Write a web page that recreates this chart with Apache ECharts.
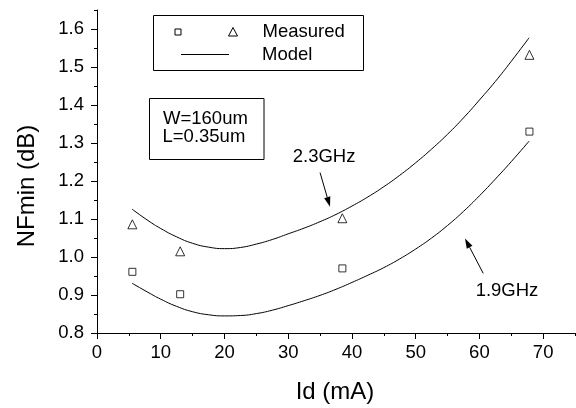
<!DOCTYPE html>
<html><head><meta charset="utf-8">
<script src="https://cdn.jsdelivr.net/npm/echarts@6/dist/echarts.min.js"></script>
<style>html,body{margin:0;padding:0;background:#fff}#c{width:576px;height:408px}</style>
</head><body><div id="c"></div><script>
const xMajorTicks = [0, 10, 20, 30, 40, 50, 60, 70];
const xMinorTicks = [5, 15, 25, 35, 45, 55, 65, 75];
const yMajorTicks = [0.8, 0.9, 1.0, 1.1, 1.2, 1.3, 1.4, 1.5, 1.6];
const yMinorTicks = [0.85, 0.95, 1.05, 1.15, 1.25, 1.35, 1.45, 1.55, 1.65];

const measuredId = [5.55, 13.05, 38.5, 67.85];
const measured19 = [0.961, 0.902, 0.970, 1.330];
const measured23 = [1.086, 1.015, 1.102, 1.532];

const modelId = [5.5, 8, 10, 12.5, 15, 17.5, 20, 22.5, 25, 27.5, 30, 32.5, 35, 37.5, 40, 42.5, 45, 47.5, 50, 52.5, 55, 57.5, 60, 62.5, 65, 67.8];
const model19 = [0.931, 0.907, 0.889, 0.870, 0.856, 0.848, 0.845, 0.846, 0.851, 0.860, 0.872, 0.885, 0.899, 0.915, 0.933, 0.952, 0.972, 0.995, 1.021, 1.050, 1.083, 1.120, 1.161, 1.205, 1.251, 1.305];
const model23 = [1.126, 1.096, 1.075, 1.053, 1.036, 1.026, 1.022, 1.025, 1.034, 1.046, 1.061, 1.076, 1.093, 1.112, 1.134, 1.158, 1.185, 1.215, 1.248, 1.284, 1.323, 1.366, 1.413, 1.462, 1.515, 1.577];

const annotTexts = ['2.3GHz', '1.9GHz'];
const annotTextPos = [[35.63, 1.264], [64.33, 0.911]];
const arrowFrom = [[35.0, 1.222], [60.6, 0.957]];
const arrowTo = [[36.56, 1.132], [57.74, 1.049]];

const FONT = "'Liberation Sans', Arial, sans-serif";
const zip = (a, b) => a.map((v, i) => [v, b[i]]);

const chart = echarts.init(document.getElementById('c'), null, {renderer: 'canvas'});
const baseX = {type: 'value', min: 0, max: 75, gridIndex: 0, position: 'bottom', splitLine: {show: false}};
const baseY = {type: 'value', min: 0.8, max: 1.65, gridIndex: 0, position: 'left', splitLine: {show: false}};
chart.setOption({
  animation: false,
  backgroundColor: '#fff',
  grid: {left: 97, right: 1, top: 10, bottom: 75, containLabel: false},
  xAxis: [
    Object.assign({}, baseX, {
      axisLine: {show: true, lineStyle: {color: '#000', width: 1}},
      axisTick: {show: true, customValues: xMajorTicks, length: 6, lineStyle: {color: '#000', width: 1}},
      axisLabel: {show: true, customValues: xMajorTicks, margin: 10, color: '#000', fontSize: 18.5, fontFamily: FONT}
    }),
    Object.assign({}, baseX, {
      axisLine: {show: false},
      axisTick: {show: true, customValues: xMinorTicks, length: 3, lineStyle: {color: '#000', width: 1}},
      axisLabel: {show: false}
    })
  ],
  yAxis: [
    Object.assign({}, baseY, {
      axisLine: {show: true, lineStyle: {color: '#000', width: 1}},
      axisTick: {show: true, customValues: yMajorTicks, length: 6, lineStyle: {color: '#000', width: 1}},
      axisLabel: {show: true, customValues: yMajorTicks, margin: 13, color: '#000', fontSize: 18.5, fontFamily: FONT,
        formatter: v => v.toFixed(1)}
    }),
    Object.assign({}, baseY, {
      axisLine: {show: false},
      axisTick: {show: true, customValues: yMinorTicks, length: 3, lineStyle: {color: '#000', width: 1}},
      axisLabel: {show: false}
    })
  ],
  series: [
    {type: 'line', name: 'Model 1.9GHz', data: zip(modelId, model19), showSymbol: false, smooth: true,
      lineStyle: {color: '#000', width: 1}, xAxisIndex: 0, yAxisIndex: 0},
    {type: 'line', name: 'Model 2.3GHz', data: zip(modelId, model23), showSymbol: false, smooth: true,
      lineStyle: {color: '#000', width: 1}, xAxisIndex: 0, yAxisIndex: 0},
    {type: 'scatter', name: 'Measured 1.9GHz', data: zip(measuredId, measured19), symbol: 'rect', symbolSize: 7,
      itemStyle: {color: '#fff', borderColor: '#000', borderWidth: 1}, xAxisIndex: 0, yAxisIndex: 0},
    {type: 'scatter', name: 'Measured 2.3GHz', data: zip(measuredId, measured23), symbol: 'triangle', symbolSize: 9,
      itemStyle: {color: '#fff', borderColor: '#000', borderWidth: 1}, xAxisIndex: 0, yAxisIndex: 0}
  ]
});

const toPx = p => chart.convertToPixel({xAxisIndex: 0, yAxisIndex: 0}, p);
const g = [];
// axis titles
g.push({type: 'text', x: 335, y: 392, style: {text: 'Id (mA)', font: '24px ' + FONT, fill: '#000', textAlign: 'center', textVerticalAlign: 'middle'}});
g.push({type: 'text', x: 27, y: 186, rotation: Math.PI / 2, style: {text: 'NFmin (dB)', font: '24px ' + FONT, fill: '#000', textAlign: 'center', textVerticalAlign: 'middle'}});
// legend box
g.push({type: 'rect', shape: {x: 153.5, y: 15.5, width: 210, height: 55}, style: {fill: 'none', stroke: '#000', lineWidth: 1}});
g.push({type: 'rect', shape: {x: 175, y: 29, width: 6, height: 6}, style: {fill: '#fff', stroke: '#000', lineWidth: 1}});
g.push({type: 'polygon', shape: {points: [[233, 27.5], [237.5, 36], [228.5, 36]]}, style: {fill: '#fff', stroke: '#000', lineWidth: 1}});
g.push({type: 'text', x: 262.5, y: 32, style: {text: 'Measured', font: '18.5px ' + FONT, fill: '#000', textVerticalAlign: 'middle'}});
g.push({type: 'line', shape: {x1: 181, y1: 54.5, x2: 229, y2: 54.5}, style: {stroke: '#000', lineWidth: 1}});
g.push({type: 'text', x: 262, y: 55, style: {text: 'Model', font: '18.5px ' + FONT, fill: '#000', textVerticalAlign: 'middle'}});
// parameter box
g.push({type: 'rect', shape: {x: 149.5, y: 98.5, width: 114.5, height: 61}, style: {fill: 'none', stroke: '#000', lineWidth: 1}});
g.push({type: 'text', x: 163, y: 118.5, style: {text: 'W=160um', font: '18.5px ' + FONT, fill: '#000', textVerticalAlign: 'middle'}});
g.push({type: 'text', x: 162.5, y: 137, style: {text: 'L=0.35um', font: '18.5px ' + FONT, fill: '#000', textVerticalAlign: 'middle'}});
// annotations
annotTexts.forEach((t, i) => {
  const p = toPx(annotTextPos[i]);
  g.push({type: 'text', x: p[0], y: p[1], style: {text: t, font: '18.5px ' + FONT, fill: '#000', textAlign: 'center', textVerticalAlign: 'middle'}});
  const a = toPx(arrowFrom[i]), b = toPx(arrowTo[i]);
  const dx = b[0] - a[0], dy = b[1] - a[1], L = Math.hypot(dx, dy);
  const ux = dx / L, uy = dy / L, hl = 10, hw = 3.2;
  const bx = b[0] - ux * hl, by = b[1] - uy * hl;
  g.push({type: 'line', shape: {x1: a[0], y1: a[1], x2: bx, y2: by}, style: {stroke: '#000', lineWidth: 1}});
  g.push({type: 'polygon', shape: {points: [[b[0], b[1]], [bx - uy * hw, by + ux * hw], [bx + uy * hw, by - ux * hw]]}, style: {fill: '#000'}});
});
chart.setOption({graphic: g});
</script></body></html>
